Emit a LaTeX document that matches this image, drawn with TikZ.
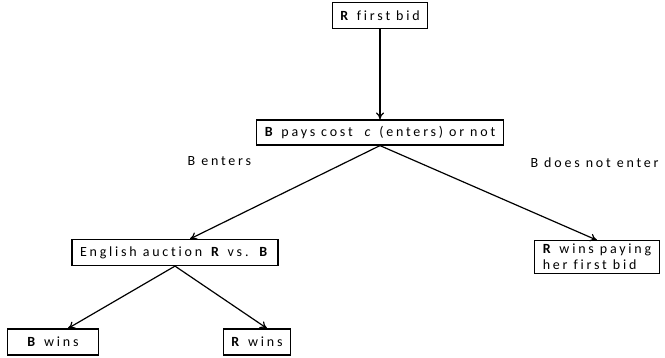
\documentclass[tikz,border=0pt]{standalone}
\usepackage{fontspec}
\setmainfont{Carlito}[LetterSpace=20,Ligatures={NoCommon}]
\usetikzlibrary{trees,arrows.meta}

\begin{document}
\begin{tikzpicture}[x=1pt,y=1pt,>={To[length=7pt,width=8pt]},
                    v/.style={draw,line width=1.2pt,rectangle,inner xsep=8pt,%
                    minimum height=26pt,font=\fontsize{14}{16}\selectfont},%
                    e/.style={inner sep=1pt,font=\fontsize{14}{16}\selectfont},%
                    edge from parent/.style={draw,line width=1.2pt,->},%
                    edge from parent path={(\tikzparentnode.south) -- (\tikzchildnode.north)}]
  \useasboundingbox (0,0) rectangle (665,-358);
  \node[v] (first-bid) at (380,-15.5) {\textbf{R} first bid}
    [level distance=117pt]
    child {node[v,minimum height=25pt] (pays) {\textbf{B} pays cost \ \textit{c} (enters) or not}
      [sibling distance=422pt]
      child[xshift=6pt,level distance=120pt,%
            edge from parent path={(\tikzparentnode.south) -- ([xshift=15pt]\tikzchildnode.north)}]
        {node[v] (auction) {English auction \textbf{R} vs. \textbf{B}}
        [sibling distance=204pt,level distance=89.5pt]
        child[xshift=-20pt] {node[v,minimum width=91pt] (b-wins) {\textbf{B} wins}}
        child[xshift=-20pt,%
              edge from parent path={(\tikzparentnode.south) -- ([xshift=10pt]\tikzchildnode.north)}]
          {node[v] (r-wins) {\textbf{R} wins}}
        edge from parent node[e,pos=.17,left=95pt] {B enters}
      }
      child[xshift=6pt,level distance=124.5pt] {node[v,align=left] (r-pays) {\textbf{R} wins paying\\her first bid}
        edge from parent node[e,pos=.18,right=110pt] {B does not enter}
      }
    };
\end{tikzpicture}
\end{document}
